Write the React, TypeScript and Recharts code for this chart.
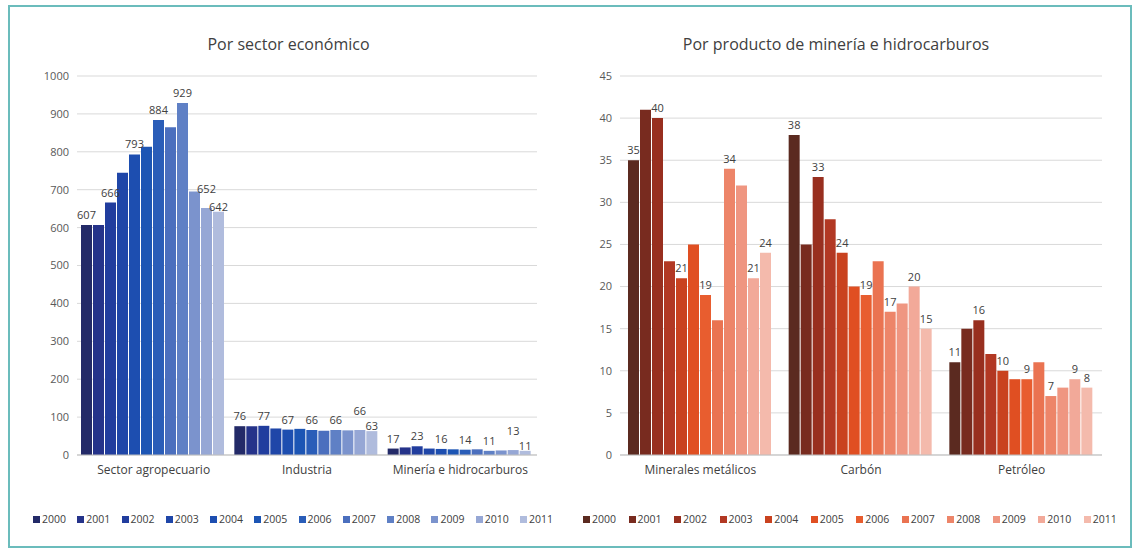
import { BarChart, Bar, XAxis, YAxis, CartesianGrid, Legend, LabelList } from 'recharts';

const years = ['2000', '2001', '2002', '2003', '2004', '2005', '2006', '2007', '2008', '2009', '2010', '2011'];
// only these years carry a value label in the original
const labelledYears = ['2000', '2002', '2004', '2006', '2008', '2010', '2011'];

const sectorCategories = ['Sector agropecuario', 'Industria', 'Minería e hidrocarburos'];
const agropecuario = [607, 607, 666, 745, 793, 813, 884, 865, 929, 695, 652, 642];
const industria = [76, 76, 77, 70, 67, 69, 66, 64, 66, 65, 66, 63];
const mineriaHidrocarburos = [17, 20, 23, 17, 16, 15, 14, 15, 11, 12, 13, 11];
const sectorTicks = [0, 100, 200, 300, 400, 500, 600, 700, 800, 900, 1000];

const productCategories = ['Minerales metálicos', 'Carbón', 'Petróleo'];
const mineralesMetalicos = [35, 41, 40, 23, 21, 25, 19, 16, 34, 32, 21, 24];
const carbon = [38, 25, 33, 28, 24, 20, 19, 23, 17, 18, 20, 15];
const petroleo = [11, 15, 16, 12, 10, 9, 9, 11, 7, 8, 9, 8];
const productTicks = [0, 5, 10, 15, 20, 25, 30, 35, 40, 45];

const blues = [
  '#232a68', '#25338a', '#213d9e', '#1f46a8', '#1d4eb0', '#1c55b4',
  '#2a5db8', '#4b6fbe', '#5f80c5', '#7b93cd', '#96a7d5', '#b0bcdd',
];
const reds = [
  '#5b2a20', '#782b1f', '#982f1f', '#b23823', '#c9421f', '#e04f22',
  '#e85d2f', '#ea7351', '#ed8569', '#ef9681', '#f2a999', '#f4baac',
];

const font = '"Open Sans", "Noto Sans", sans-serif';

function buildRows(categories: string[], series: number[][]) {
  return categories.map((name, ci) => {
    const row: Record<string, string | number> = { name };
    years.forEach((y, yi) => {
      row[y] = series[ci][yi];
    });
    return row;
  });
}

function YearLegend({ payload }: any) {
  return (
    <div
      style={{
        display: 'flex',
        justifyContent: 'space-between',
        height: 16,
        lineHeight: '16px',
        fontSize: 10.5,
        color: '#404040',
        fontFamily: font,
      }}
    >
      {(payload || []).map((p: any) => (
        <span key={p.value} style={{ display: 'flex', alignItems: 'center' }}>
          <span style={{ width: 7, height: 7, background: p.color, marginRight: 2 }} />
          {p.value}
        </span>
      ))}
    </div>
  );
}

interface PanelProps {
  rows: Record<string, string | number>[];
  ticks: number[];
  colors: string[];
  width: number;
  yWidth: number;
  margin: { top: number; right: number; bottom: number; left: number };
  categoryGap: number;
  legendLeft: number;
  legendWidth: number;
  labelOffsets?: Record<string, number>;
}

function Panel({
  rows, ticks, colors, width, yWidth, margin, categoryGap, legendLeft, legendWidth, labelOffsets = {},
}: PanelProps) {
  return (
    <BarChart
      width={width}
      height={548}
      data={rows}
      margin={margin}
      barCategoryGap={categoryGap}
      barGap={1}
      style={{ fontFamily: font }}
    >
      <CartesianGrid vertical={false} stroke="#d9d9d9" />
      <XAxis
        dataKey="name"
        interval={0}
        tickLine={false}
        axisLine={{ stroke: '#bfbfbf' }}
        tick={{ fontSize: 12, fill: '#404040' }}
        tickMargin={4}
        height={56}
      />
      <YAxis
        ticks={ticks}
        domain={[0, ticks[ticks.length - 1]]}
        interval={0}
        axisLine={false}
        tickLine={false}
        tick={{ fontSize: 11, fill: '#595959' }}
        width={yWidth}
      />
      <Legend
        verticalAlign="bottom"
        content={<YearLegend />}
        wrapperStyle={{ left: legendLeft, width: legendWidth }}
      />
      {years.map((y, i) => (
        <Bar key={y} dataKey={y} fill={colors[i]} isAnimationActive={false}>
          {labelledYears.includes(y) && (
            <LabelList
              dataKey={y}
              position="top"
              fill="#404040"
              fontSize={11}
              offset={labelOffsets[y] ?? 6}
            />
          )}
        </Bar>
      ))}
    </BarChart>
  );
}

export default function App() {
  const sectorRows = buildRows(sectorCategories, [agropecuario, industria, mineriaHidrocarburos]);
  const productRows = buildRows(productCategories, [mineralesMetalicos, carbon, petroleo]);

  const titleStyle = {
    position: 'absolute' as const,
    top: 33,
    fontFamily: font,
    fontSize: 16,
    color: '#404040',
    textAlign: 'center' as const,
  };

  return (
    <div style={{ position: 'absolute', left: 0, top: 0, width: 1135, height: 548, background: '#fff' }}>
      <div
        style={{
          position: 'absolute',
          left: 8,
          top: 5,
          width: 1120,
          height: 539,
          border: '2px solid #6bbcbc',
        }}
      />
      <div style={{ ...titleStyle, left: 0, width: 577 }}>Por sector económico</div>
      <div style={{ ...titleStyle, left: 560, width: 552 }}>Por producto de minería e hidrocarburos</div>
      <div style={{ position: 'absolute', left: 0, top: 0 }}>
        <Panel
          rows={sectorRows}
          ticks={sectorTicks}
          colors={blues}
          width={560}
          yWidth={60}
          margin={{ top: 76, right: 23, bottom: 21, left: 17 }}
          categoryGap={4}
          legendLeft={33}
          legendWidth={520}
          labelOffsets={{ '2010': 15, '2011': 1 }}
        />
      </div>
      <div style={{ position: 'absolute', left: 560, top: 0 }}>
        <Panel
          rows={productRows}
          ticks={productTicks}
          colors={reds}
          width={575}
          yWidth={40}
          margin={{ top: 76, right: 33, bottom: 21, left: 20 }}
          categoryGap={8}
          legendLeft={23}
          legendWidth={534}
        />
      </div>
    </div>
  );
}
